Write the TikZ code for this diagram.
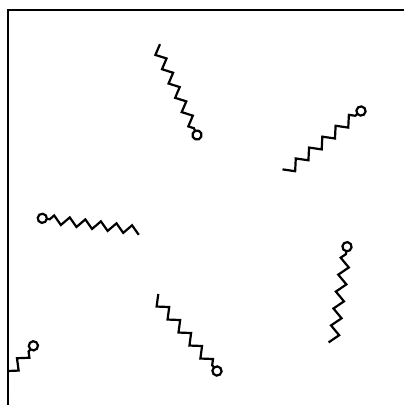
\documentclass[tikz,border=0pt]{standalone}
\usepackage{tikz}

\begin{document}
\begin{tikzpicture}[x=1pt,y=-1pt,line width=2.2pt]
  \useasboundingbox (0,0) rectangle (404,405);
  % box edges (only left and top are seen)
  \draw (8.3,405) -- (8.3,10.3) -- (404,10.3);
  % --- chains: head x/y, angle, length, vertices, side of tail tip ---
  \begin{scope}
    \clip (8.3,10.3) rectangle (404,405);
    \foreach \x/\y/\a/\l/\n/\s in {197/135/114.7/98/12/1,361/111/219.4/97.7/11/1,42.3/218.3/-7.2/97.8/12/1,347/246.7/261.9/97.3/11/1,217/371/130.1/96.7/11/1,33.4/345.8/230/62/7/-1} {
      \pgfmathsetmacro{\h}{(\l-7.5)/(\n-0.5)}
      \begin{scope}[shift={(\x,\y)},rotate=\a]
        \draw (0,0) circle (4.6);
        \draw (4.6,0) -- (7.5,0) \foreach \k in {1,...,\n} { -- ({7.5+(\k-0.5)*\h},{\s*0.55*\h*(1-2*mod(\n-\k,2))}) };
      \end{scope}
    }
  \end{scope}
\end{tikzpicture}
\end{document}
